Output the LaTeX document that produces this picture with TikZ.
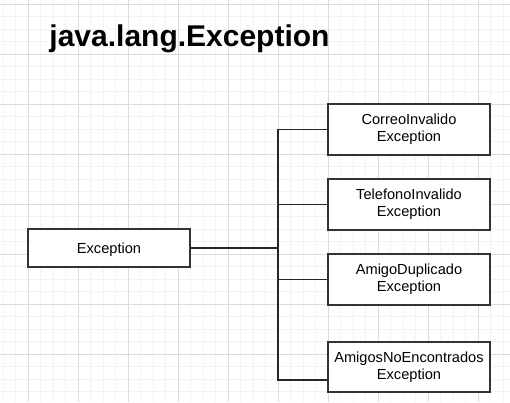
\documentclass[tikz,border=0pt]{standalone}
\usepackage{fontspec}
\setmainfont{Liberation Sans}
\usetikzlibrary{positioning}

\definecolor{gridminor}{HTML}{F3F3F3}
\definecolor{gridmajor}{HTML}{DCDCDC}
\definecolor{boxline}{HTML}{333333}

\tikzset{
  classbox/.style={draw=boxline, fill=white, line width=1.3pt,
    minimum width=162pt, minimum height=51pt, inner sep=0pt,
    align=center, font=\fontsize{14.6}{17}\selectfont},
  link/.style={draw=black!85, line width=1.2pt}
}

\begin{document}
\begin{tikzpicture}[x=1pt,y=-1pt]
  % canvas 510 x 402, one unit = one pixel of the sketch
  \useasboundingbox (0,0) rectangle (510,402);
  \fill[white] (0,0) rectangle (510,402);

  % Background grid: minor pitch 12.5, major pitch 50
  \foreach \gx in {3,15.5,...,503} {
    \draw[gridminor,line width=1pt] (\gx,0) -- (\gx,402);
  }
  \foreach \gy in {4,16.5,...,392} {
    \draw[gridminor,line width=1pt] (0,\gy) -- (510,\gy);
  }
  \foreach \gx in {28,78,...,478} {
    \draw[gridmajor,line width=1pt] (\gx,0) -- (\gx,402);
  }
  \foreach \gy in {4,54,...,354} {
    \draw[gridmajor,line width=1pt] (0,\gy) -- (510,\gy);
  }

  % Title
  \node[anchor=base,inner sep=0pt,font=\fontsize{30}{36}\selectfont\bfseries]
    (title) at (189.5,46) {java.lang.Exception};

  % Parent class
  \node[classbox,minimum height=38pt,text depth=0pt] (exc) at (109,248)
    {Exception};

  % Subclasses
  \node[classbox] (correo)    at (409,129.5) {CorreoInvalido\\Exception};
  \node[classbox] (telefono)  at (409,204.5) {TelefonoInvalido\\Exception};
  \node[classbox] (duplicado) at (409,279.5) {AmigoDuplicado\\Exception};
  \node[classbox,minimum height=50pt] (noenc) at (409,367)
    {AmigosNoEncontrados\\Exception};

  % Tree connectors through a common bus
  \coordinate (jn) at (278,248);
  \draw[link] (exc.east) -- (jn);
  \draw[link] (correo.west) -| (jn);
  \draw[link] (telefono.west) -| (jn);
  \draw[link] (duplicado.west) -| (jn);
  \draw[link] ([yshift=-13pt]noenc.west) -| (jn);
\end{tikzpicture}
\end{document}
